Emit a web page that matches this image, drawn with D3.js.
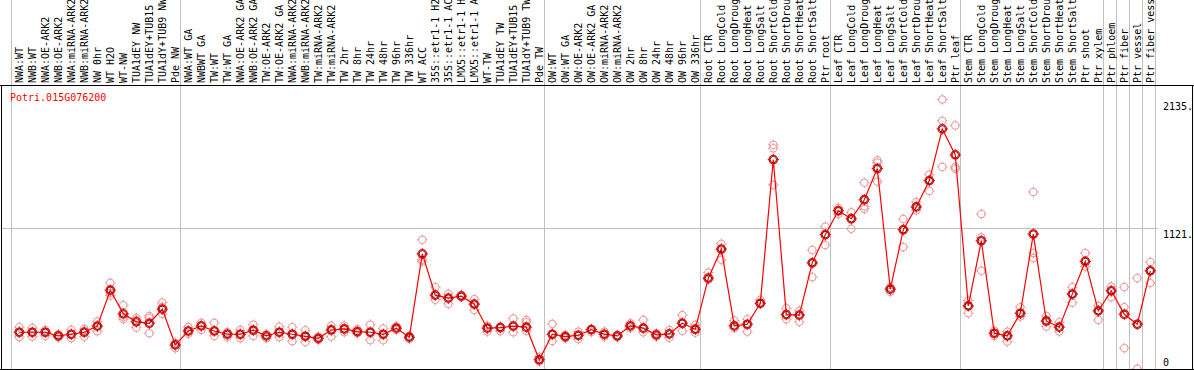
<!DOCTYPE html>
<html><head><meta charset="utf-8">
<script src="https://cdn.jsdelivr.net/npm/d3@7"></script>
<style>html,body{margin:0;padding:0;background:#fff;overflow:hidden}</style>
</head><body><svg id="c" width="1194" height="370"></svg>
<script>
const categories = ["NWA:WT","NWB:WT","NWA:OE-ARK2","NWB:OE-ARK2","NWA:miRNA-ARK2","NWB:miRNA-ARK2","NW 0hr","WT H2O","WT-NW","TUA1dEY NW","TUA1dEY+TUB15","TUA1dY+TUB9 NW","Pde NW",
"NWA:WT GA","NWBWT GA","TW:WT","TW:WT GA","NWA:OE-ARK2 GA","NWB:OE-ARK2 GA","TW:OE-ARK2","TW:OE-ARK2 GA","NWA:miRNA-ARK2","NWB:miRNA-ARK2","TW:miRNA-ARK2","TW:miRNA-ARK2","TW 2hr","TW 8hr","TW 24hr","TW 48hr","TW 96hr","TW 336hr","WT ACC","35S::etr1-1 H2","35S::etr1-1 AC","LMX5::etr1-1 H","LMX5::etr1-1 A","WT-TW","TUA1dEY TW","TUA1dEY+TUB15","TUA1dY+TUB9 TW","Pde TW",
"OW:WT","OW:WT GA","OW:OE-ARK2","OW:OE-ARK2 GA","OW:miRNA-ARK2","OW:miRNA-ARK2","OW 2hr","OW 8hr","OW 24hr","OW 48hr","OW 96hr","OW 336hr",
"Root CTR","Root LongCold","Root LongDroug","Root LongHeat","Root LongSalt","Root ShortCold","Root ShortDrou","Root ShortHeat","Root ShortSalt","Ptr root",
"Leaf CTR","Leaf LongCold","Leaf LongDroug","Leaf LongHeat","Leaf LongSalt","Leaf ShortCold","Leaf ShortDrou","Leaf ShortHeat","Leaf ShortSalt","Ptr leaf",
"Stem CTR","Stem LongCold","Stem LongDroug","Stem LongHeat","Stem LongSalt","Stem ShortCold","Stem ShortDrou","Stem ShortHeat","Stem ShortSalt","Ptr shoot","Ptr xylem",
"Ptr phloem","Ptr fiber","Ptr vessel","Ptr fiber vess"];

const means = [298,298,298,269,282,298,346,630,443,380,369,480,198,
308,348,308,282,282,314,269,298,282,266,250,316,324,303,298,282,330,259,917,591,567,583,520,330,335,346,338,81,
282,263,274,319,282,269,348,330,277,285,369,322,
725,954,348,361,527,1661,437,433,846,1068,
1257,1194,1344,1590,638,1107,1287,1495,1903,1698,
506,1020,290,269,448,1073,387,338,599,857,467,
625,440,361,783];

const rep1 = [338,332,316,269,316,324,382,688,512,411,427,532,172,
340,372,372,290,316,358,282,342,338,314,263,350,350,322,358,327,346,269,1028,654,601,593,559,348,342,406,395,105,
364,277,303,322,303,277,369,395,290,316,433,356,
769,996,390,401,554,1777,488,467,947,1131,
1279,1244,1479,1655,654,1192,1326,1542,2135,1930,
548,1231,311,303,496,1405,427,377,654,923,506,
659,654,725,852];

const rep2 = [259,263,269,259,251,263,306,588,401,335,290,443,198,
285,316,269,259,251,269,251,259,227,221,237,263,298,290,235,235,316,245,870,554,522,575,474,303,306,298,377,66,
229,251,243,300,263,259,330,298,263,255,308,295,
712,870,330,303,522,1750,401,380,733,986,
1231,1115,1291,1637,617,970,1260,1413,1967,1603,
448,1046,269,224,422,923,343,303,532,817,395,
575,496,10,686];

const rep3 = [298,298,298,282,282,308,348,609,419,395,411,498,214,
308,348,308,300,282,314,269,298,282,266,250,316,324,303,298,282,330,259,856,591,567,583,520,330,335,346,308,81,
282,263,274,319,282,269,348,330,277,285,369,322,
725,954,348,361,527,1461,437,433,846,1068,
1257,1194,1271,1487,638,1107,1287,1495,1603,1587,
506,783,290,269,448,883,387,338,599,857,467,
625,172,null,783];

const groupEnds = [-1,12,40,52,62,72,83,84,85,86,87];
const yTickValues = [2135,1121,0];
const yTickLabels = ["2135.","1121.","0"];
const geneName = "Potri.015G076200";

const svg = d3.select("#c");
const mono = "'DejaVu Sans Mono', 'Liberation Mono', monospace";
const x = d3.scaleLinear().domain([0, categories.length-1]).range([19.3, 1150.3]);
const y = d3.scaleLinear().domain([0, 2135]).range([370, 99.5]);

const plotTop = 85.5, plotBottom = 369.5, plotLeft = 1.5, plotRight = 1192.5;

// vertical group separators
svg.append("g").selectAll("line").data(groupEnds).join("line")
  .attr("x1", d => Math.round(x(d)+4.5)+0.5).attr("x2", d => Math.round(x(d)+4.5)+0.5)
  .attr("y1", 0).attr("y2", plotBottom)
  .attr("stroke", "#c0c0c0").attr("stroke-width", 1);

// horizontal gridline at 1121
svg.append("line").attr("x1", plotLeft).attr("x2", 1158)
  .attr("y1", Math.round(y(1121))+0.5).attr("y2", Math.round(y(1121))+0.5)
  .attr("stroke", "#c0c0c0").attr("stroke-width", 1);

// labels (read bottom to top)
svg.append("g").selectAll("text").data(categories).join("text")
  .attr("transform", (d,i) => `translate(${x(i)+3.6},83) rotate(-90)`)
  .attr("text-anchor", "start")
  .attr("font-family", mono).attr("font-size", "10px").attr("fill", "#000")
  .text(d => d);

// frame
svg.append("line").attr("x1",0).attr("x2",1194).attr("y1",plotTop).attr("y2",plotTop).attr("stroke","#000");
svg.append("line").attr("x1",plotLeft).attr("x2",plotLeft).attr("y1",plotTop).attr("y2",370).attr("stroke","#000");
svg.append("line").attr("x1",plotRight).attr("x2",plotRight).attr("y1",plotTop).attr("y2",370).attr("stroke","#000");
svg.append("line").attr("x1",0).attr("x2",1194).attr("y1",plotBottom).attr("y2",plotBottom).attr("stroke","#000");

// gene name
svg.append("text").attr("x", 10).attr("y", 101).attr("font-family", mono).attr("font-size","10px")
  .attr("fill", "#ff0000").text(geneName);

// y tick labels
svg.append("g").selectAll("text").data(yTickValues).join("text")
  .attr("x", 1163).attr("y", d => Math.min(y(d)+10.5, 366))
  .attr("font-family", mono).attr("font-size","10px").attr("fill","#000")
  .text((d,i) => yTickLabels[i]);

svg.append("defs").append("clipPath").attr("id","pc").append("rect")
  .attr("x", plotLeft+0.5).attr("y", plotTop+0.5).attr("width", plotRight-plotLeft-1).attr("height", plotBottom-plotTop-1);
const g = svg.append("g").attr("clip-path","url(#pc)");

function marker(sel, color, r, sw) {
  sel.append("circle").attr("r", r).attr("fill","none").attr("stroke", color).attr("stroke-width", sw);
  sel.append("line").attr("x1",0).attr("x2",0).attr("y1",-r-1.5).attr("y2",-r+0.5).attr("stroke",color);
  sel.append("line").attr("x1",0).attr("x2",0).attr("y1",r-0.5).attr("y2",r+1.5).attr("stroke",color);
  sel.append("line").attr("y1",0).attr("y2",0).attr("x1",-r-1.5).attr("x2",-r+0.5).attr("stroke",color);
  sel.append("line").attr("y1",0).attr("y2",0).attr("x1",r-0.5).attr("x2",r+1.5).attr("stroke",color);
}

// replicates
const reps = [];
[rep1, rep2, rep3].forEach(arr => arr.forEach((v,i) => { if (v !== null) reps.push({i, v}); }));
g.append("g").selectAll("g").data(reps).join("g")
  .attr("transform", d => `translate(${x(d.i)},${y(d.v)})`)
  .each(function(){ marker(d3.select(this), "#eb9898", 3.8, 1); });

// mean line
g.append("path").datum(means)
  .attr("d", d3.line().x((d,i) => x(i)).y(d => y(d)))
  .attr("fill","none").attr("stroke","#ff0000").attr("stroke-width",1.2);

// mean markers
const mg = g.append("g").selectAll("g").data(means).join("g")
  .attr("transform", (d,i) => `translate(${x(i)},${y(d)})`);
mg.each(function(){ marker(d3.select(this), "#ff0000", 4.2, 1.3); });
mg.append("circle").attr("r", 3.2).attr("fill","none").attr("stroke","#5a0000").attr("stroke-width",0.9);
</script>
</body></html>
